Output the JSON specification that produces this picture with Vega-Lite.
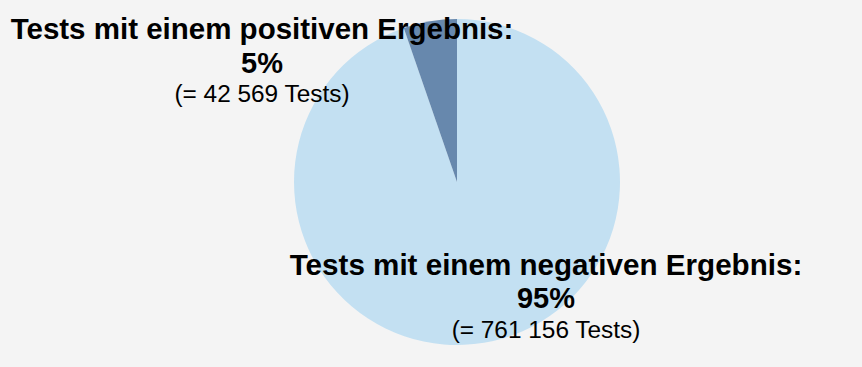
{
  "$schema": "https://vega.github.io/schema/vega-lite/v6.json",
  "autosize": {"type": "none"},
  "width": 810,
  "height": 364,
  "padding": {"left": 52, "right": 0, "top": 0, "bottom": 3},
  "background": "#f4f4f4",
  "config": {"view": {"stroke": null}, "font": "Liberation Sans"},
  "data": {
    "values": [
      {"category": "negativ", "count": 761156, "rank": 1, "title": "Tests mit einem negativen Ergebnis:", "pct": "95%", "detail": "(= 761 156 Tests)"},
      {"category": "positiv", "count": 42569, "rank": 2, "title": "Tests mit einem positiven Ergebnis:", "pct": "5%", "detail": "(= 42 569 Tests)"}
    ]
  },
  "layer": [
    {
      "mark": {"type": "arc", "outerRadius": 163},
      "encoding": {
        "theta": {"field": "count", "type": "quantitative", "stack": true},
        "order": {"field": "rank", "type": "quantitative"},
        "color": {
          "field": "category",
          "type": "nominal",
          "scale": {"domain": ["negativ", "positiv"], "range": ["#c3e0f2", "#6788ad"]},
          "legend": null
        }
      }
    },
    {
      "transform": [{"filter": "datum.category == 'positiv'"}],
      "mark": {"type": "text", "font": "Liberation Sans", "fontWeight": "bold", "fontSize": 29.5, "align": "center", "baseline": "alphabetic", "dx": -195, "dy": -143, "color": "#000"},
      "encoding": {"text": {"field": "title"}}
    },
    {
      "transform": [{"filter": "datum.category == 'positiv'"}],
      "mark": {"type": "text", "font": "Liberation Sans", "fontWeight": "bold", "fontSize": 29, "align": "center", "baseline": "alphabetic", "dx": -195, "dy": -109, "color": "#000"},
      "encoding": {"text": {"field": "pct"}}
    },
    {
      "transform": [{"filter": "datum.category == 'positiv'"}],
      "mark": {"type": "text", "font": "Liberation Sans", "fontSize": 24.4, "align": "center", "baseline": "alphabetic", "dx": -195, "dy": -80, "color": "#000"},
      "encoding": {"text": {"field": "detail"}}
    },
    {
      "transform": [{"filter": "datum.category == 'negativ'"}],
      "mark": {"type": "text", "font": "Liberation Sans", "fontWeight": "bold", "fontSize": 29.6, "align": "center", "baseline": "alphabetic", "dx": 89, "dy": 93, "color": "#000"},
      "encoding": {"text": {"field": "title"}}
    },
    {
      "transform": [{"filter": "datum.category == 'negativ'"}],
      "mark": {"type": "text", "font": "Liberation Sans", "fontWeight": "bold", "fontSize": 29, "align": "center", "baseline": "alphabetic", "dx": 89, "dy": 126, "color": "#000"},
      "encoding": {"text": {"field": "pct"}}
    },
    {
      "transform": [{"filter": "datum.category == 'negativ'"}],
      "mark": {"type": "text", "font": "Liberation Sans", "fontSize": 24.4, "align": "center", "baseline": "alphabetic", "dx": 89, "dy": 156, "color": "#000"},
      "encoding": {"text": {"field": "detail"}}
    }
  ]
}
